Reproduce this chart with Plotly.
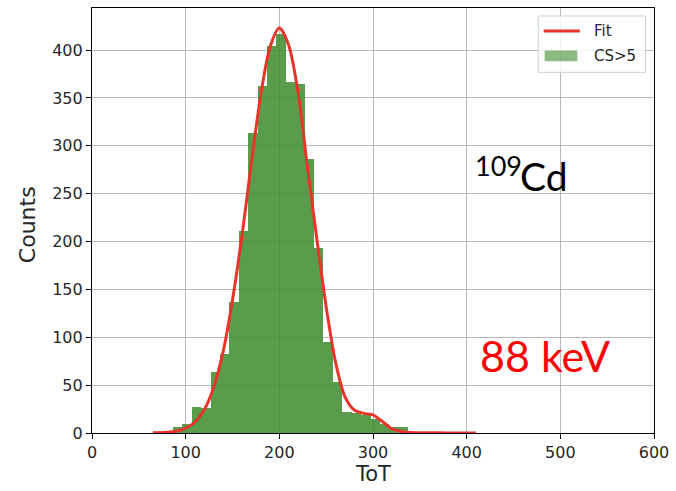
import plotly.graph_objects as go

# Histogram data (ToT bins, width ~10.04, starting at 86.5)
bin_start = 86.5
bin_width = 10.04
bin_counts = [6, 9, 27, 26, 64, 83, 137, 211, 313, 362, 404, 417, 367, 365,
              286, 193, 95, 53, 22, 21, 19, 15, 9, 6, 6]

# Fit curve
fit_tot = [65, 80, 90, 100, 110, 120, 130, 140, 150, 160, 170, 180, 190, 200,
           210, 220, 230, 240, 250, 260, 270, 280, 290, 300, 310, 320, 330,
           340, 360, 380, 410]
fit_counts = [0.2, 0.7, 1.9, 5, 11.5, 24.5, 48, 85, 139, 205, 281, 352, 403,
              423, 405, 356, 278, 203, 132, 74, 38, 24, 20.5, 19, 12, 4.5,
              1.5, 0.6, 0.2, 0.1, 0]

x_ticks = [0, 100, 200, 300, 400, 500, 600]
y_ticks = [0, 50, 100, 150, 200, 250, 300, 350, 400]

bin_centers = [bin_start + bin_width * (i + 0.5) for i in range(len(bin_counts))]

BAR_COLOR = "rgba(60,140,45,0.85)"
LINE_COLOR = "#e8352b"
TICK_FONT = dict(family="DejaVu Sans", size=16, color="#262626")

fig = go.Figure()
fig.add_trace(go.Bar(x=bin_centers, y=bin_counts, width=bin_width,
                     marker=dict(color=BAR_COLOR, line=dict(width=0)),
                     name="CS>5", showlegend=False))
fig.add_trace(go.Scatter(x=fit_tot, y=fit_counts, mode="lines",
                         line=dict(color=LINE_COLOR, width=3, shape="spline", smoothing=0.8),
                         name="Fit", showlegend=False))

axis_common = dict(showline=True, mirror=True, linecolor="black", linewidth=1.2,
                   ticks="outside", ticklen=5, tickcolor="black", tickwidth=1,
                   showgrid=True, gridcolor="#b8b8b8", gridwidth=1,
                   zeroline=False, tickfont=TICK_FONT)

fig.update_xaxes(range=[0, 600], tickvals=x_ticks, **axis_common)
fig.update_yaxes(range=[0, 444], tickvals=y_ticks, **axis_common)

W, H = 676, 491
L, R, T, B = 92, 16, 7, 58
pw, ph = W - L - R, H - T - B


def px(xp):
    return (xp - L) / pw


def py(yp):
    return (H - B - yp) / ph


shapes = []
# legend box
shapes.append(dict(type="rect", xref="paper", yref="paper",
                   x0=px(543), x1=px(651.5), y0=py(71.5), y1=py(15),
                   line=dict(color="#d0d0d0", width=1), fillcolor="rgba(255,255,255,0.8)",
                   layer="above"))
shapes.append(dict(type="line", xref="paper", yref="paper",
                   x0=px(548.5), x1=px(585), y0=py(30), y1=py(30),
                   line=dict(color=LINE_COLOR, width=3), layer="above"))
shapes.append(dict(type="rect", xref="paper", yref="paper",
                   x0=px(549.5), x1=px(582.5), y0=py(60.5), y1=py(49.5),
                   line=dict(width=0), fillcolor="rgba(60,140,45,0.6)", layer="above"))
fig.update_layout(shapes=shapes)

annotations = [
    dict(text="Fit", x=px(597), y=py(30), xref="paper", yref="paper",
         xanchor="left", yanchor="middle", showarrow=False,
         font=dict(family="DejaVu Sans", size=15, color="#262626")),
    dict(text="CS>5", x=px(597), y=py(55), xref="paper", yref="paper",
         xanchor="left", yanchor="middle", showarrow=False,
         font=dict(family="DejaVu Sans", size=15, color="#262626")),
    dict(text="Counts", x=px(27), y=py(224), xref="paper", yref="paper",
         xanchor="center", yanchor="middle", textangle=-90, showarrow=False,
         font=dict(family="DejaVu Sans", size=22, color="#262626")),
    dict(text="ToT", x=px(375.5), y=py(474), xref="paper", yref="paper",
         xanchor="center", yanchor="middle", showarrow=False,
         font=dict(family="DejaVu Sans", size=21, color="#262626")),
    dict(text="109", x=px(477), y=py(165), xref="paper", yref="paper",
         xanchor="left", yanchor="middle", showarrow=False,
         font=dict(family="Lato", size=27, color="black")),
    dict(text="Cd", x=px(523), y=py(175), xref="paper", yref="paper",
         xanchor="left", yanchor="middle", showarrow=False,
         font=dict(family="Lato", size=39, color="black")),
    dict(text="88 keV", x=px(482), y=py(355), xref="paper", yref="paper",
         xanchor="left", yanchor="middle", showarrow=False,
         font=dict(family="Lato", size=43, color="#ff0000")),
]
fig.update_layout(annotations=annotations)

fig.update_layout(width=W, height=H, margin=dict(l=L, r=R, t=T, b=B),
                  paper_bgcolor="white", plot_bgcolor="white",
                  bargap=0, showlegend=False)

fig.write_html("out.html", config={"displayModeBar": False},
               post_script="document.body.style.margin='0';document.body.style.overflow='hidden';")
